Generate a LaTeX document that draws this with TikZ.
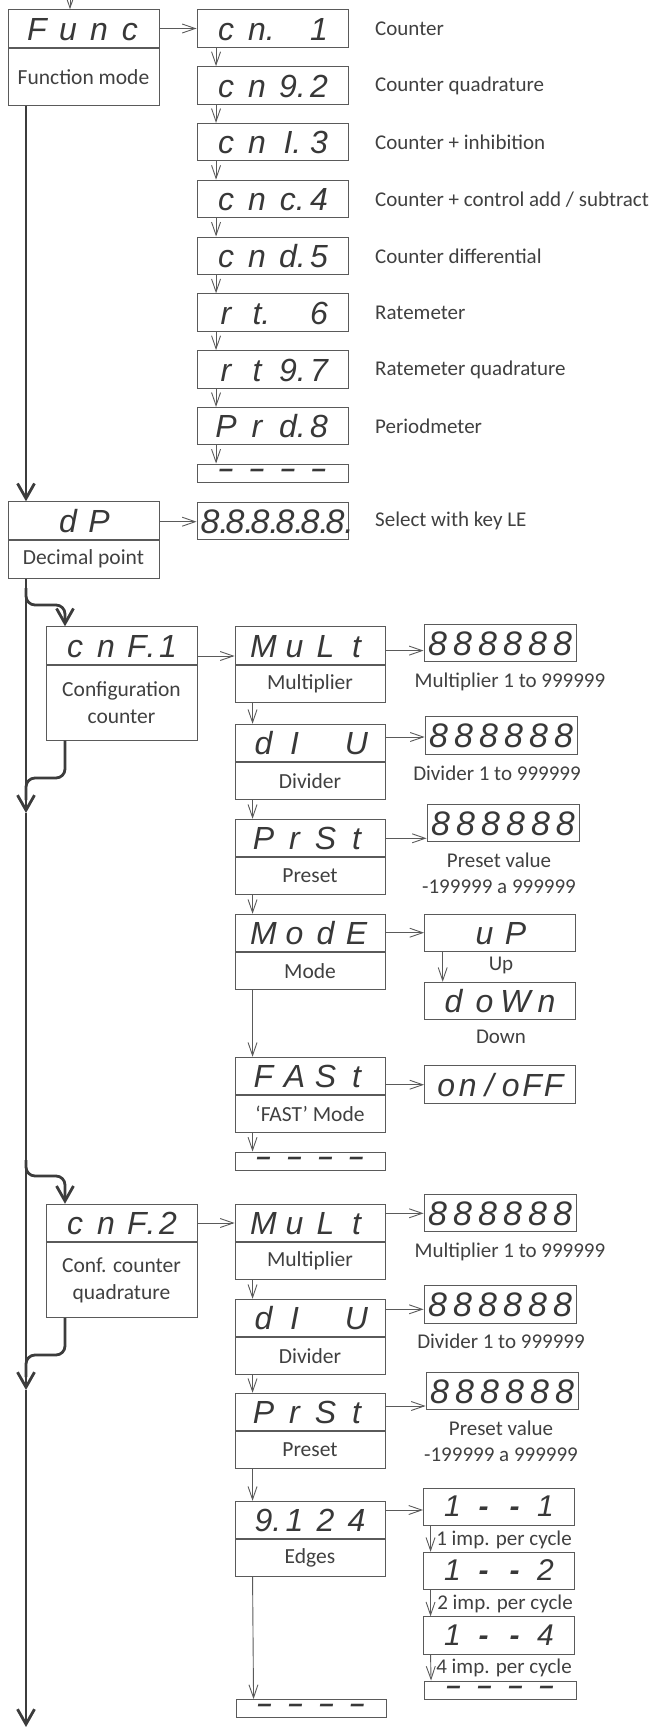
\documentclass[tikz,border=0pt]{standalone}
\usepackage{fontspec}
\setmainfont{Carlito}
\newfontfamily\segfam{Liberation Sans}
\usetikzlibrary{arrows.meta}
\newlength\sgw
\newcommand\sgc[1]{\makebox[\sgw][c]{#1}}
\newcommand\sgd[1]{\makebox[\sgw][c]{#1\rlap{.}}}
\newcommand\sgbar{\makebox[\sgw][c]{\fontsize{26}{26}\selectfont\bfseries –}}
\newcommand\sgmin{\makebox[\sgw][c]{\bfseries -}}
\definecolor{ln}{HTML}{5A5A5A}
\definecolor{tk}{HTML}{3C3C3C}
\definecolor{tx}{HTML}{404040}
\definecolor{sx}{HTML}{383838}
\begin{document}
\begin{tikzpicture}[x=1pt,y=-1pt,
 box/.style={draw=ln, line width=0.9pt, inner sep=0pt},
 seg/.style={box, minimum width=151pt, minimum height=37.5pt, text=sx,
   font=\segfam\itshape\fontsize{32}{32}\selectfont, text height=23.5pt, text depth=0pt,
   execute at begin node={\setlength\sgw{31pt}}},
 segsix/.style={seg, font=\segfam\itshape\fontsize{34}{34}\selectfont, text height=24.5pt,
   execute at begin node={\setlength\sgw{25pt}}},
 imp/.style={seg, font=\segfam\itshape\fontsize{30}{30}\selectfont, text height=21.5pt, text depth=2pt},
 dashbox/.style={seg, minimum height=18pt, text height=8.2pt, text depth=-5.4pt},
 lab/.style={box, minimum width=151pt, anchor=north, text=tx, align=center,
   font=\fontsize{21.5}{26.5}\selectfont},
 txt/.style={inner sep=0pt, text=tx, align=center, font=\fontsize{21}{26}\selectfont},
 tarr/.style={draw=ln, line width=0.9pt, -{Straight Barb[length=13pt,width=9pt]}},
 karr/.style={draw=tk, line width=2.8pt, -{Straight Barb[length=15pt,width=17pt]}},
 kl/.style={draw=tk, line width=2.8pt},
]
\useasboundingbox (0,0) rectangle (654,1727);

% ---------- left column ----------
\node[seg] (func) at (83.5,28.5) {\sgc{F}\sgc{u}\sgc{n}\sgc{c}};
\node[lab, minimum height=57pt] (funcl) at (func.south) {Function mode};
\node[seg] (dp) at (83.5,520.5) {\sgc{}\sgc{d}\sgc{P}\sgc{}};
\node[lab, minimum height=38pt] (dpl) at (dp.south) {Decimal point};
\node[seg] (cnf1) at (121.5,645.5) {\sgc{c}\sgc{n}\sgd{F}\sgc{1}};
\node[lab, minimum height=75pt] (cnf1l) at (cnf1.south) {Configuration\\counter};
\node[seg] (cnf2) at (121.5,1223) {\sgc{c}\sgc{n}\sgd{F}\sgc{2}};
\node[lab, minimum height=75pt] (cnf2l) at (cnf2.south) {Conf. counter\\quadrature};

% ---------- function list ----------
\node[seg] (c1) at (272.5,28.5) {\sgc{c}\sgd{n}\sgc{}\sgc{1}};
\node[seg] (c2) at (272.5,85.3) {\sgc{c}\sgc{n}\sgd{9}\sgc{2}};
\node[seg] (c3) at (272.5,142.1) {\sgc{c}\sgc{n}\sgd{I}\sgc{3}};
\node[seg] (c4) at (272.5,198.9) {\sgc{c}\sgc{n}\sgd{c}\sgc{4}};
\node[seg] (c5) at (272.5,255.7) {\sgc{c}\sgc{n}\sgd{d}\sgc{5}};
\node[seg] (c6) at (272.5,312.5) {\sgc{r}\sgd{t}\sgc{}\sgc{6}};
\node[seg] (c7) at (272.5,369.3) {\sgc{r}\sgc{t}\sgd{9}\sgc{7}};
\node[seg] (c8) at (272.5,426.1) {\sgc{P}\sgc{r}\sgd{d}\sgc{8}};
\node[dashbox] (c9) at (272.5,473) {\sgbar\sgbar\sgbar\sgbar};
\node[txt, anchor=west] (t1) at (375,29) {Counter};
\node[txt, anchor=west] (t2) at (375,86) {Counter quadrature};
\node[txt, anchor=west] (t3) at (375,142.5) {Counter + inhibition};
\node[txt, anchor=west] (t4) at (375,199.5) {Counter + control add / subtract};
\node[txt, anchor=west] (t5) at (375,256) {Counter differential};
\node[txt, anchor=west] (t6) at (375,313) {Ratemeter};
\node[txt, anchor=west] (t7) at (375,369.5) {Ratemeter quadrature};
\node[txt, anchor=west] (t8) at (375,426.5) {Periodmeter};

\node[segsix] (dpv) at (272.5,521) {\sgd{8}\sgd{8}\sgd{8}\sgd{8}\sgd{8}\sgd{8}};
\node[txt, anchor=west] (dpt) at (375,521) {Select with key LE};

% ---------- configuration counter ----------
\node[seg, minimum width=150pt] (mu1) at (310,645.5) {\sgc{M}\sgc{u}\sgc{L}\sgc{t}};
\node[lab, minimum width=150pt, minimum height=37pt] (mu1l) at (mu1.south) {Multiplier};
\node[seg, minimum width=150pt] (di1) at (310,743) {\sgc{d}\sgc{I}\sgc{}\sgc{U}};
\node[lab, minimum width=150pt, minimum height=37pt] (di1l) at (di1.south) {Divider};
\node[seg, minimum width=150pt] (pr1) at (310,838) {\sgc{P}\sgc{r}\sgc{S}\sgc{t}};
\node[lab, minimum width=150pt, minimum height=37pt] (pr1l) at (pr1.south) {Preset};
\node[seg, minimum width=150pt] (mo1) at (310,933) {\sgc{M}\sgc{o}\sgc{d}\sgc{E}};
\node[lab, minimum width=150pt, minimum height=37pt] (mo1l) at (mo1.south) {Mode};
\node[seg, minimum width=150pt] (fa1) at (310,1076) {\sgc{F}\sgc{A}\sgc{S}\sgc{t}};
\node[lab, minimum width=150pt, minimum height=37pt] (fa1l) at (fa1.south) {‘FAST’ Mode};
\node[dashbox, minimum width=150pt] (de1) at (310,1161) {\sgbar\sgbar\sgbar\sgbar};

\node[segsix, minimum width=152pt] (mv1) at (500,643) {\sgc{8}\sgc{8}\sgc{8}\sgc{8}\sgc{8}\sgc{8}};
\node[txt] (mt1) at (510,682) {Multiplier 1 to 999999};
\node[segsix, minimum width=152pt] (dv1) at (501,735.5) {\sgc{8}\sgc{8}\sgc{8}\sgc{8}\sgc{8}\sgc{8}};
\node[txt] (dt1) at (497,773) {Divider 1 to 999999};
\node[segsix, minimum width=152pt] (pv1) at (503,823) {\sgc{8}\sgc{8}\sgc{8}\sgc{8}\sgc{8}\sgc{8}};
\node[txt] (pt1) at (499,873.5) {Preset value\\-199999 a 999999};
\node[seg, minimum width=151pt] (up) at (500,933) {\sgc{}\sgc{u}\sgc{P}\sgc{}};
\node[txt] (upt) at (501,965) {Up};
\node[seg, minimum width=151pt] (dn) at (500,1001) {\sgc{d}\sgc{o}\sgc{W}\sgc{n}};
\node[txt] (dnt) at (501,1037) {Down};
\node[seg, minimum width=151pt, execute at begin node={\setlength\sgw{21.5pt}}] (oo) at (500,1084.5) {\sgc{o}\sgc{n}\sgc{/}\sgc{o}\sgc{F}\sgc{F}};

% ---------- configuration counter quadrature ----------
\node[seg, minimum width=150pt] (mu2) at (310,1223) {\sgc{M}\sgc{u}\sgc{L}\sgc{t}};
\node[lab, minimum width=150pt, minimum height=37pt] (mu2l) at (mu2.south) {Multiplier};
\node[seg, minimum width=150pt] (di2) at (310,1318) {\sgc{d}\sgc{I}\sgc{}\sgc{U}};
\node[lab, minimum width=150pt, minimum height=37pt] (di2l) at (di2.south) {Divider};
\node[seg, minimum width=150pt] (pr2) at (310,1412) {\sgc{P}\sgc{r}\sgc{S}\sgc{t}};
\node[lab, minimum width=150pt, minimum height=37pt] (pr2l) at (pr2.south) {Preset};
\node[seg, minimum width=150pt] (ed2) at (310,1520) {\sgd{9}\sgc{1}\sgc{2}\sgc{4}};
\node[lab, minimum width=150pt, minimum height=37pt] (ed2l) at (ed2.south) {Edges};
\node[dashbox, minimum width=150pt] (de2) at (311,1708.5) {\sgbar\sgbar\sgbar\sgbar};

\node[segsix, minimum width=152pt] (mv2) at (500,1213) {\sgc{8}\sgc{8}\sgc{8}\sgc{8}\sgc{8}\sgc{8}};
\node[txt] (mt2) at (510,1252) {Multiplier 1 to 999999};
\node[segsix, minimum width=152pt] (dv2) at (500,1304.5) {\sgc{8}\sgc{8}\sgc{8}\sgc{8}\sgc{8}\sgc{8}};
\node[txt] (dt2) at (501,1341) {Divider 1 to 999999};
\node[segsix, minimum width=152pt] (pv2) at (502,1391) {\sgc{8}\sgc{8}\sgc{8}\sgc{8}\sgc{8}\sgc{8}};
\node[txt] (pt2) at (501,1441) {Preset value\\-199999 a 999999};
\node[imp] (i1) at (499,1507) {\sgc{1}\sgmin\sgmin\sgc{1}};
\node[txt] (it1) at (504,1539.5) {1 imp. per cycle};
\node[imp] (i2) at (499,1571) {\sgc{1}\sgmin\sgmin\sgc{2}};
\node[txt] (it2) at (505,1603.5) {2 imp. per cycle};
\node[imp] (i4) at (499,1635.5) {\sgc{1}\sgmin\sgmin\sgc{4}};
\node[txt] (it4) at (504,1668) {4 imp. per cycle};
\node[dashbox, minimum width=152pt] (de3) at (500,1690) {\sgbar\sgbar\sgbar\sgbar};

% ---------- main thick line ----------
\coordinate (top) at (70,-14);
\coordinate (j1) at (26,813);
\coordinate (j2) at (26,1390);
\coordinate (bot) at (26,1727);
\coordinate (b1) at (65,605);
\coordinate (r1) at (65,778);
\coordinate (b2) at (65,1176);
\coordinate (r2) at (65,1355);
\draw[tarr] (top) -- (func.north -| top);
\draw[karr] (funcl.south -| j1) -- (dp.north -| j1);
\draw[karr] (dpl.south -| j1) -- (j1);
\draw[karr] (j1) -- (j2);
\draw[karr] (j2) -- (bot);
\draw[karr, rounded corners=9pt] (26,588) -- (26,605) -- (b1) -- (cnf1.north -| b1);
\draw[kl, rounded corners=9pt] (cnf1l.south -| r1) -- (r1) -- (26,778) -- (26,800);
\draw[karr, rounded corners=9pt] (26,1160) -- (26,1176) -- (b2) -- (cnf2.north -| b2);
\draw[kl, rounded corners=9pt] (cnf2l.south -| r2) -- (r2) -- (26,1355) -- (26,1377);

% ---------- thin connectors ----------
\draw[tarr] (func.east) -- (c1.west);
\foreach \a/\b in {c1/c2,c2/c3,c3/c4,c4/c5,c5/c6,c6/c7,c7/c8,c8/c9}
  \draw[tarr] ([xshift=19.5pt]\a.south west) -- ([xshift=19.5pt]\b.north west);
\draw[tarr] (dp.east |- 0,521.7) -- (dpv.west |- 0,521.7);

\draw[tarr] ([yshift=-10.5pt]cnf1.east) -- ([yshift=-10.5pt]mu1.west);
\foreach \a/\b in {mu1l/di1,di1l/pr1,pr1l/mo1,mo1l/fa1,fa1l/de1,mu2l/di2,di2l/pr2,pr2l/ed2,ed2l/de2}
  \draw[tarr] ([xshift=18pt]\a.south west) -- ([xshift=18pt]\b.north west);
\draw[tarr] (mu1.east |- 0,650.6) -- (mv1.west |- 0,650.6);
\draw[tarr] (di1.east |- 0,737) -- (dv1.west |- 0,737);
\draw[tarr] (pr1.east |- 0,838.3) -- (pv1.west |- 0,838.3);
\draw[tarr] (mo1.east |- 0,932.7) -- (up.west |- 0,932.7);
\draw[tarr] (fa1.east |- 0,1084.7) -- (oo.west |- 0,1084.7);
\draw[tarr] (up.south -| 442.7,0) -- (dn.north -| 442.7,0);

\draw[tarr] (cnf2.east) -- (mu2.west);
\draw[tarr] (mu2.east |- 0,1213.3) -- (mv2.west |- 0,1213.3);
\draw[tarr] (di2.east |- 0,1309.3) -- (dv2.west |- 0,1309.3);
\draw[tarr] (pr2.east |- 0,1406) -- (pv2.west |- 0,1406);
\draw[tarr] (ed2.east |- 0,1510) -- (i1.west |- 0,1510);
\foreach \a/\b in {i1/i2,i2/i4,i4/de3}
  \draw[tarr] ([xshift=7.5pt]\a.south west) -- ([xshift=7.5pt]\b.north west);
\end{tikzpicture}
\end{document}
